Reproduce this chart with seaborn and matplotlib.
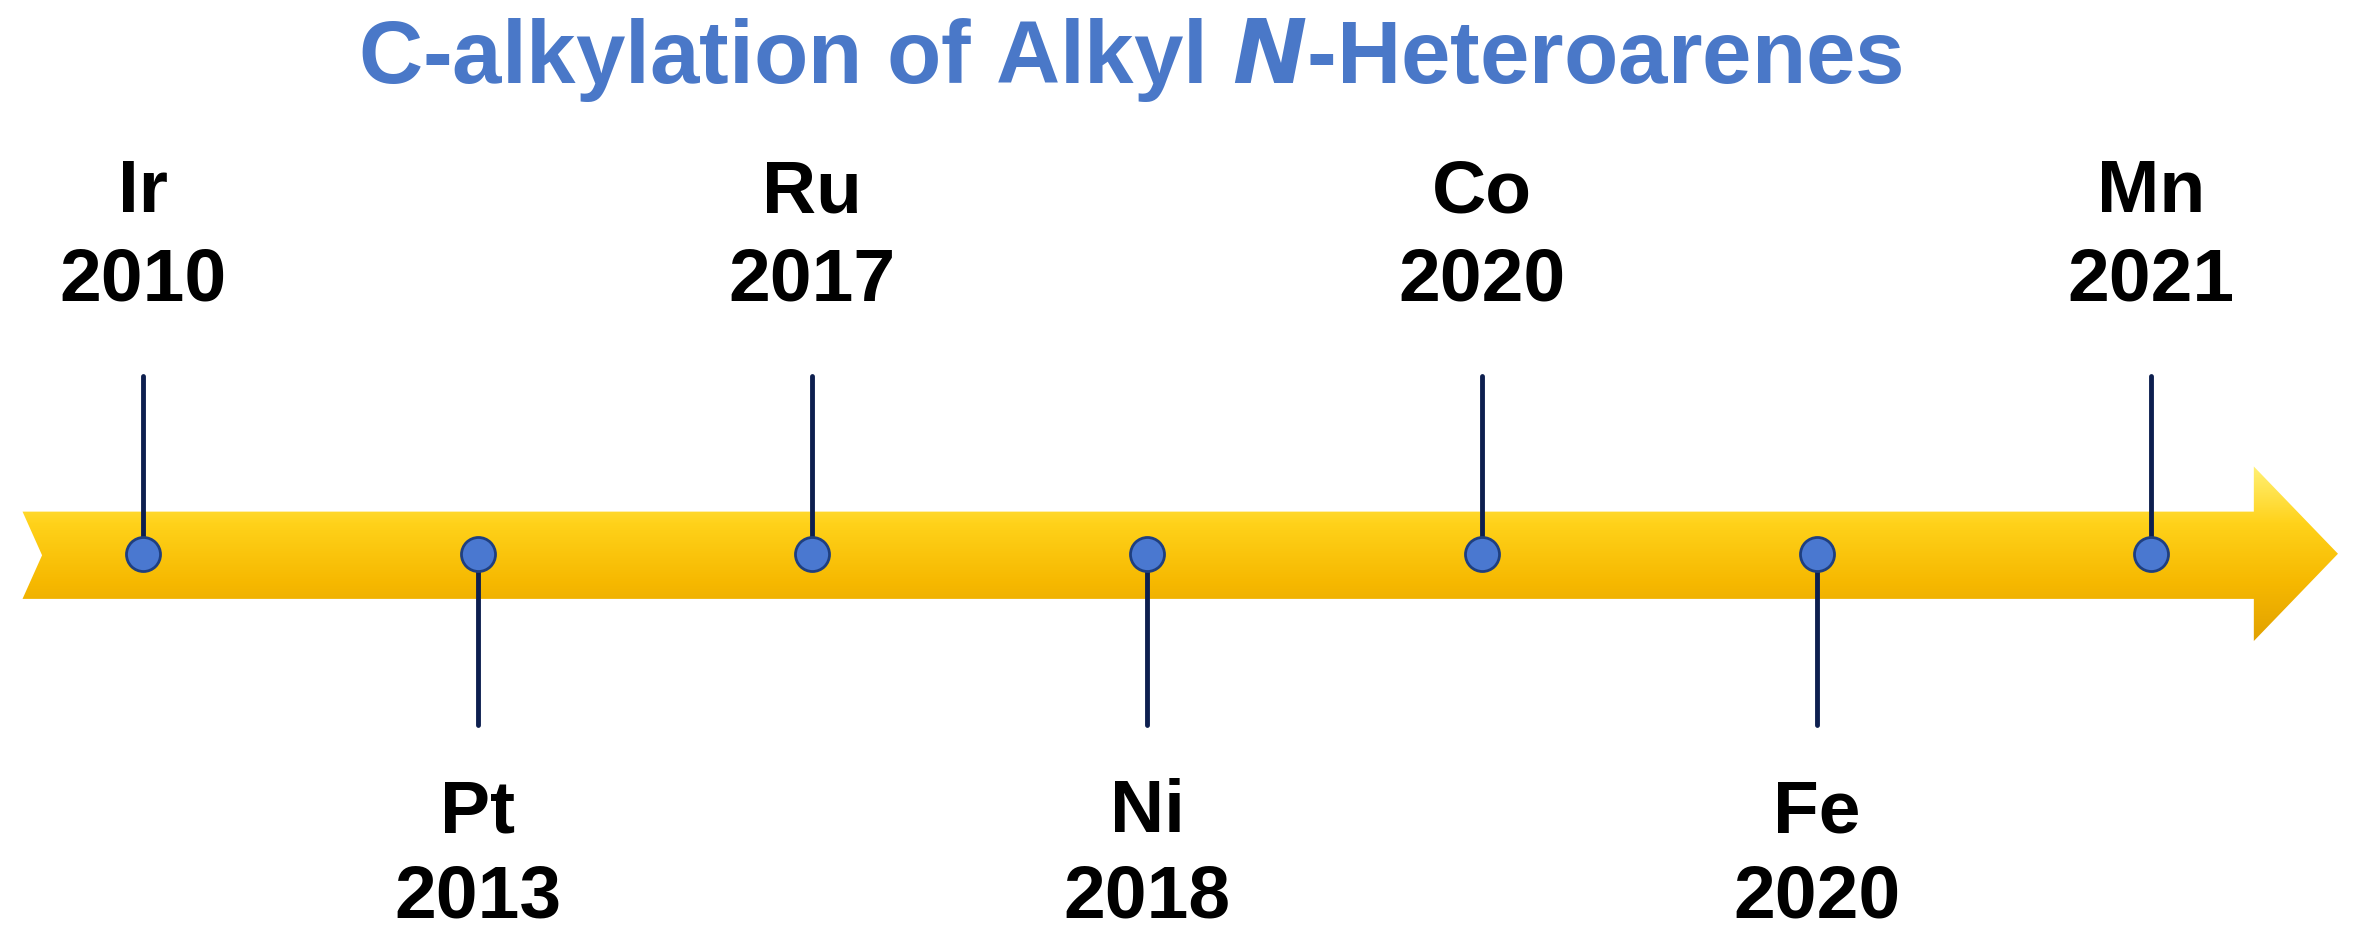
import numpy as np
import pandas as pd
import matplotlib
matplotlib.use("Agg")
import matplotlib.pyplot as plt
from matplotlib.patches import Polygon
import seaborn as sns

metals = ["Ir", "Pt", "Ru", "Ni", "Co", "Fe", "Mn"]
years = ["2010", "2013", "2017", "2018", "2020", "2020", "2021"]
side = ["up", "down", "up", "down", "up", "down", "up"]
order = [0, 1, 2, 3, 4, 5, 6]

sns.set_theme(style="white")
plt.rcParams["font.family"] = ["Liberation Sans", "DejaVu Sans"]

df = pd.DataFrame({"metal": metals, "year": years, "side": side, "pos": order})
# position on the canvas (display units of a 1568 x 630 frame)
df["x"] = 95 + df["pos"] * 222.8
df["y"] = 368

fig = plt.figure(figsize=(23.56, 9.48), dpi=100)
ax = fig.add_axes([0, 0, 1, 1])
ax.set_xlim(0, 1568)
ax.set_ylim(630, 0)
ax.axis("off")

# yellow arrow with vertical gradient
arrow = Polygon([[15, 340], [1500, 340], [1500, 310], [1556, 368],
                 [1500, 426], [1500, 398], [15, 398], [28, 369]],
                closed=True, facecolor="none", edgecolor="none")
ax.add_patch(arrow)
grad = np.linspace(0, 1, 256).reshape(-1, 1)
cmap = matplotlib.colors.LinearSegmentedColormap.from_list(
    "gold", ["#fff27a", "#ffd21a", "#f6b800", "#e0a000"])
img = ax.imshow(grad, extent=[0, 1568, 428, 308], cmap=cmap, aspect="auto", zorder=1)
img.set_clip_path(arrow)

# stems and labels
for _, r in df.iterrows():
    y_end = 250 if r["side"] == "up" else 482
    ax.plot([r["x"], r["x"]], [r["y"], y_end], color="#0d1f4f", lw=3.5, zorder=2)
    y1, y2 = (128, 187) if r["side"] == "up" else (540, 597)
    ax.text(r["x"], y1, r["metal"], ha="center", va="center", fontsize=54, fontweight="bold", color="black")
    ax.text(r["x"], y2, r["year"], ha="center", va="center", fontsize=54, fontweight="bold", color="black")

sns.scatterplot(data=df, x="x", y="y", s=600, color="#4a78d0", edgecolor="#1f3f80",
                linewidth=2, ax=ax, zorder=3, legend=False)
ax.set_xlim(0, 1568)
ax.set_ylim(630, 0)
ax.axis("off")

ax.text(752, 40, "C-alkylation of Alkyl $\\boldsymbol{N}$-Heteroarenes", ha="center", va="center",
        fontsize=64, fontweight="bold", color="#4a78c8")

fig.savefig("out.png", dpi=100)
